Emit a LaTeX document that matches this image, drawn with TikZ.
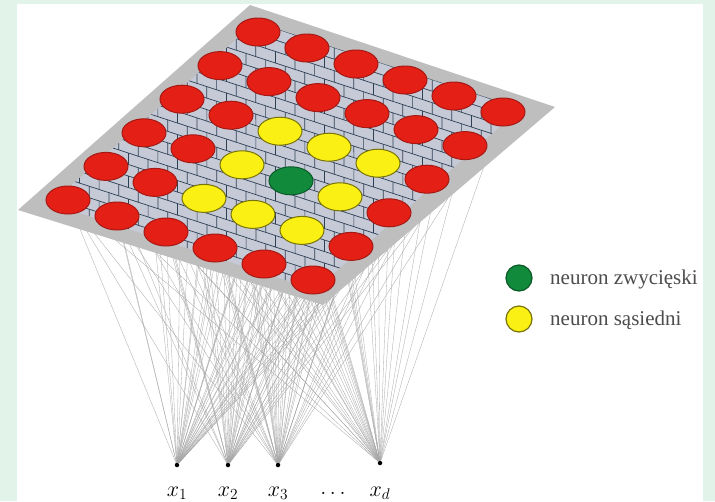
\RequirePackage{fix-cm}
\documentclass[tikz,border=0pt]{standalone}
\usepackage{fontspec}
\setmainfont{Liberation Serif}
\usetikzlibrary{shapes.geometric}
\definecolor{cMint}{RGB}{226,244,234}
\definecolor{cPlane}{RGB}{190,190,190}
\definecolor{cMeshFill}{RGB}{198,201,214}
\definecolor{cMesh}{RGB}{45,65,85}
\definecolor{cRed}{RGB}{228,32,22}
\definecolor{cRedB}{RGB}{165,25,20}
\definecolor{cYel}{RGB}{250,240,20}
\definecolor{cYelB}{RGB}{120,115,10}
\definecolor{cGrn}{RGB}{18,138,60}
\definecolor{cGrnB}{RGB}{10,90,40}
\begin{document}
\begin{tikzpicture}[x=1pt,y=-1pt,
  neur/.style={ellipse,minimum width=44pt,minimum height=28pt,inner sep=0pt,line width=1pt},
  nred/.style={neur,fill=cRed,draw=cRedB},
  nyel/.style={neur,fill=cYel,draw=cYelB},
  ngrn/.style={neur,fill=cGrn,draw=cGrnB},
  conn/.style={draw=black!35,line width=0.3pt},
  inp/.style={circle,fill=black,inner sep=0pt,minimum size=4.5pt},
  lab/.style={font=\fontsize{22}{24}\selectfont,anchor=base,inner sep=0pt},
  leg/.style={font=\fontsize{21}{24}\selectfont,text=black!70,anchor=base west,inner sep=0pt},
  legdot/.style={circle,minimum size=26pt,inner sep=0pt,line width=1.2pt},
  mesh/.style={draw=cMesh,line width=0.7pt}]
% background
\fill[cMint] (0,0) rectangle (715,501);
\fill[white] (17,4) rectangle (703,501);
\path[use as bounding box] (0,0) rectangle (715,501);
% neuron centres
\foreach \i in {0,...,5}{\foreach \j in {0,...,5}{
  \pgfmathsetmacro\px{258+49*\i-38*\j}
  \pgfmathsetmacro\py{32+16*\i+33.6*\j}
  \coordinate (c-\i-\j) at (\px,\py);
}}
% inputs
\node[inp] (in1) at (177,465) {};
\node[inp] (in2) at (228,465) {};
\node[inp] (in3) at (278,465) {};
\node[inp] (in4) at (380,463) {};
% connections
\foreach \p in {1,2,3,4}{\foreach \i in {0,...,5}{\foreach \j in {0,...,5}{
  \draw[conn] (in\p) -- (c-\i-\j);
}}}
% plane
\fill[cPlane] (250,5) -- (555,107) -- (323,305) -- (18,210) -- cycle;
% mesh
\begin{scope}[shift={(258,32)},x={(49pt,-16pt)},y={(-38pt,-33.6pt)}]
  \fill[cMeshFill] (-0.2,-0.2) -- (5.2,-0.2) -- (5.2,5.2) -- (-0.2,5.2) -- cycle;
  \clip (-0.2,-0.2) -- (5.2,-0.2) -- (5.2,5.2) -- (-0.2,5.2) -- cycle;
  \foreach \k in {0,...,22}{
    \pgfmathsetmacro\vv{-0.2+0.25*\k}
    \draw[mesh] (-0.5,\vv) -- (5.5,\vv);
    \pgfmathsetmacro\off{mod(\k,2)*0.2+0.194*\k}
    \foreach \m in {0,...,28}{
      \pgfmathsetmacro\uu{-5+0.4*\m+\off}
      \pgfmathsetmacro\ue{\uu+0.194}
      \pgfmathsetmacro\ve{\vv+0.25}
      \draw[mesh] (\uu,\vv) -- (\ue,\ve);
    }
  }
\end{scope}
% neurons
\foreach \i in {0,...,5}{\foreach \j in {0,...,5}{
  \def\col{nred}
  \ifnum\i>1 \ifnum\i<5 \ifnum\j>1 \ifnum\j<5 \def\col{nyel}\fi\fi\fi\fi
  \ifnum\i=3 \ifnum\j=3 \def\col{ngrn}\fi\fi
  \node[\col] (n-\i-\j) at (c-\i-\j) {};
}}
% legend
\node[legdot,fill=cGrn,draw=cGrnB] (lg1) at (519,278) {};
\node[legdot,fill=cYel,draw=cYelB] (lg2) at (519,319) {};
\node[leg] (lt1) at (550,284) {neuron zwycięski};
\node[leg] (lt2) at (550,325) {neuron sąsiedni};
% labels
\node[lab] (x1) at (177,496) {$x_1$};
\node[lab] (x2) at (228,496) {$x_2$};
\node[lab] (x3) at (278,496) {$x_3$};
\node[lab] (xd) at (333,494) {$\dots$};
\node[lab] (x4) at (380,496) {$x_d$};
\end{tikzpicture}
\end{document}
